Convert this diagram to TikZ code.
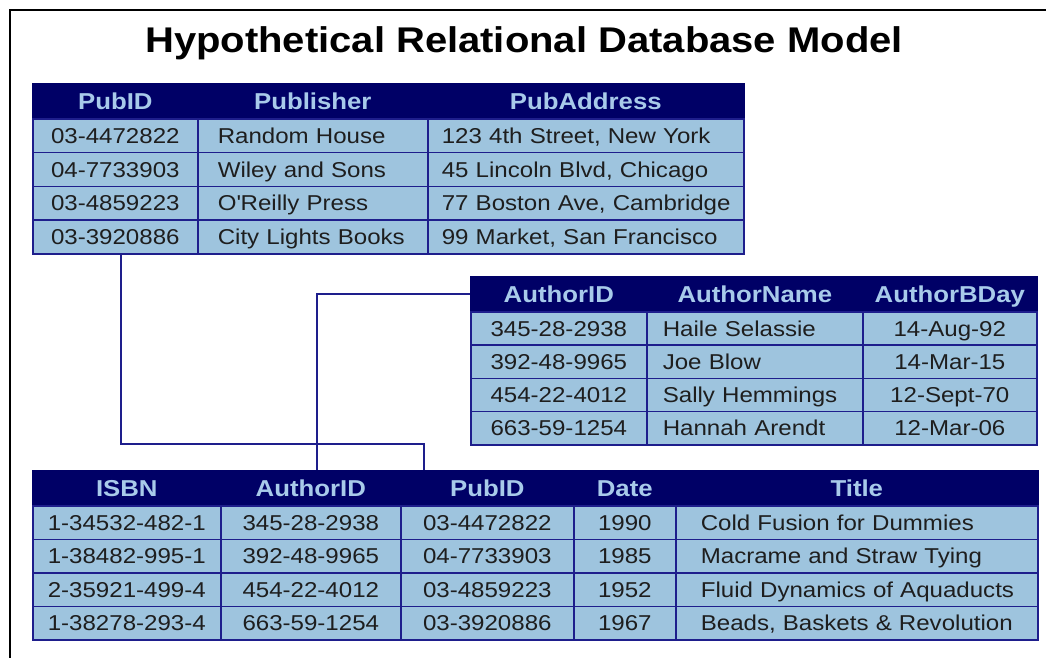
\documentclass[tikz,border=0pt]{standalone}
\usepackage{fontspec}
\setmainfont{Liberation Sans}[FakeStretch=1.12]
\definecolor{navy}{RGB}{0,0,102}
\definecolor{cellblue}{RGB}{158,196,222}
\definecolor{hdrtext}{RGB}{168,202,234}
\definecolor{gridblue}{RGB}{30,30,140}
\definecolor{ink}{RGB}{30,30,30}
\newcommand\datfont{\fontsize{21.5}{24}\selectfont}
\newcommand\hdrfont{\fontsize{23}{26}\selectfont\bfseries}
\newcommand\ttlfont{\fontsize{35.7}{40}\selectfont\bfseries}
\tikzset{
  hdr/.style={draw=navy, fill=navy, line width=1.6pt, anchor=north west, inner sep=0pt,
    text=hdrtext, font=\hdrfont, text height=16.5pt, text depth=0pt, align=center, minimum height=35pt},
  dat/.style={draw=gridblue, fill=cellblue, line width=1.6pt, anchor=north west, inner sep=0pt,
    text=ink, font=\datfont, text height=15.4pt, text depth=0pt},
  conn/.style={draw=gridblue, line width=1.8pt},
  frame/.style={draw=black, line width=1.6pt},
}
% name, x, y, width, height, text
\newcommand\dbcc[6]{\node[dat, text width=#4pt, minimum height=#5pt, align=center] (#1) at (#2,#3) {\mbox{#6}};}
% name, x, y, text width, pad, height, text
\newcommand\dblc[7]{\node[dat, text width=#4pt, inner xsep=#5pt, minimum height=#6pt, align=left] (#1) at (#2,#3) {\mbox{#7}};}
% name, x, y, width, text
\newcommand\dbhc[5]{\node[hdr, text width=#4pt] (#1) at (#2,#3) {\mbox{#5}};}
\begin{document}
\begin{tikzpicture}[x=1pt,y=-1pt]
\useasboundingbox (0,0) rectangle (1046,658);
\draw[frame] (10,658) -- (10,10) -- (1046,10);
\node[font=\ttlfont, anchor=base] (title) at (524,53) {Hypothetical Relational Database Model};

% ---- Table 1: publishers
\dbhc{t1-h-1}{32}{83}{165}{PubID}
\dbhc{t1-h-2}{197}{83}{230}{Publisher}
\dbhc{t1-h-3}{427}{83}{316}{PubAddress}
\dbcc{t1-1-1}{32}{118}{165}{33.75}{03-4472822}
\dblc{t1-1-2}{197}{118}{190}{20}{33.75}{Random House}
\dblc{t1-1-3}{427}{118}{288}{14}{33.75}{123 4th Street, New York}
\dbcc{t1-2-1}{32}{151.75}{165}{33.75}{04-7733903}
\dblc{t1-2-2}{197}{151.75}{190}{20}{33.75}{Wiley and Sons}
\dblc{t1-2-3}{427}{151.75}{288}{14}{33.75}{45 Lincoln Blvd, Chicago}
\dbcc{t1-3-1}{32}{185.5}{165}{33.75}{03-4859223}
\dblc{t1-3-2}{197}{185.5}{190}{20}{33.75}{O\textquotesingle Reilly Press}
\dblc{t1-3-3}{427}{185.5}{288}{14}{33.75}{77 Boston Ave, Cambridge}
\dbcc{t1-4-1}{32}{219.25}{165}{33.75}{03-3920886}
\dblc{t1-4-2}{197}{219.25}{190}{20}{33.75}{City Lights Books}
\dblc{t1-4-3}{427}{219.25}{288}{14}{33.75}{99 Market, San Francisco}

% ---- Table 2: authors
\dbhc{t2-h-1}{470}{276}{176}{AuthorID}
\dbhc{t2-h-2}{646}{276}{216}{AuthorName}
\dbhc{t2-h-3}{862}{276}{174}{AuthorBDay}
\dbcc{t2-1-1}{470}{311}{176}{33.25}{345-28-2938}
\dblc{t2-1-2}{646}{311}{184}{16}{33.25}{Haile Selassie}
\dbcc{t2-1-3}{862}{311}{174}{33.25}{14-Aug-92}
\dbcc{t2-2-1}{470}{344.25}{176}{33.25}{392-48-9965}
\dblc{t2-2-2}{646}{344.25}{184}{16}{33.25}{Joe Blow}
\dbcc{t2-2-3}{862}{344.25}{174}{33.25}{14-Mar-15}
\dbcc{t2-3-1}{470}{377.5}{176}{33.25}{454-22-4012}
\dblc{t2-3-2}{646}{377.5}{184}{16}{33.25}{Sally Hemmings}
\dbcc{t2-3-3}{862}{377.5}{174}{33.25}{12-Sept-70}
\dbcc{t2-4-1}{470}{410.75}{176}{33.25}{663-59-1254}
\dblc{t2-4-2}{646}{410.75}{184}{16}{33.25}{Hannah Arendt}
\dbcc{t2-4-3}{862}{410.75}{174}{33.25}{12-Mar-06}

% ---- Table 3: books
\dbhc{t3-h-1}{32}{470}{188}{ISBN}
\dbhc{t3-h-2}{220}{470}{180}{AuthorID}
\dbhc{t3-h-3}{400}{470}{173}{PubID}
\dbhc{t3-h-4}{573}{470}{102}{Date}
\dbhc{t3-h-5}{675}{470}{362}{Title}
\dbcc{t3-1-1}{32}{505}{188}{33.5}{1-34532-482-1}
\dbcc{t3-1-2}{220}{505}{180}{33.5}{345-28-2938}
\dbcc{t3-1-3}{400}{505}{173}{33.5}{03-4472822}
\dbcc{t3-1-4}{573}{505}{102}{33.5}{1990}
\dblc{t3-1-5}{675}{505}{312}{25}{33.5}{Cold Fusion for Dummies}
\dbcc{t3-2-1}{32}{538.5}{188}{33.5}{1-38482-995-1}
\dbcc{t3-2-2}{220}{538.5}{180}{33.5}{392-48-9965}
\dbcc{t3-2-3}{400}{538.5}{173}{33.5}{04-7733903}
\dbcc{t3-2-4}{573}{538.5}{102}{33.5}{1985}
\dblc{t3-2-5}{675}{538.5}{312}{25}{33.5}{Macrame and Straw Tying}
\dbcc{t3-3-1}{32}{572}{188}{33.5}{2-35921-499-4}
\dbcc{t3-3-2}{220}{572}{180}{33.5}{454-22-4012}
\dbcc{t3-3-3}{400}{572}{173}{33.5}{03-4859223}
\dbcc{t3-3-4}{573}{572}{102}{33.5}{1952}
\dblc{t3-3-5}{675}{572}{312}{25}{33.5}{Fluid Dynamics of Aquaducts}
\dbcc{t3-4-1}{32}{605.5}{188}{33.5}{1-38278-293-4}
\dbcc{t3-4-2}{220}{605.5}{180}{33.5}{663-59-1254}
\dbcc{t3-4-3}{400}{605.5}{173}{33.5}{03-3920886}
\dbcc{t3-4-4}{573}{605.5}{102}{33.5}{1967}
\dblc{t3-4-5}{675}{605.5}{312}{25}{33.5}{Beads, Baskets \& Revolution}

% ---- Connectors
\coordinate (j1) at (121,444);
\coordinate (j2) at (424,444);
\coordinate (j3) at (317,292);
\draw[conn] (t1-4-1.south -| j1) -- (j1) -- (j2) -- (j2 |- t3-h-3.north);
\draw[conn] (t2-h-1.west) -| (j3 |- t3-h-2.north);
\end{tikzpicture}
\end{document}
